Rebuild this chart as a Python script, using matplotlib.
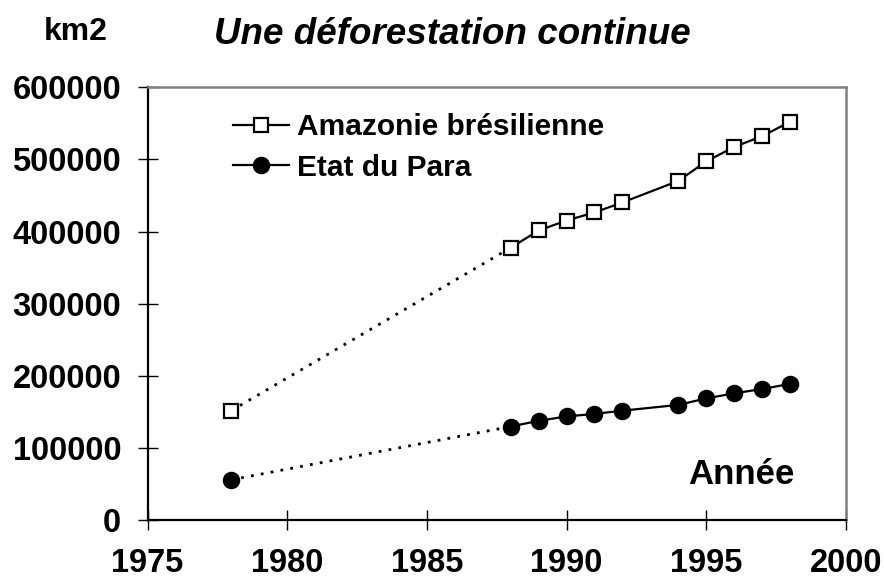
import matplotlib.pyplot as plt

plt.rcParams["font.family"] = ["Liberation Sans", "DejaVu Sans"]
plt.rcParams["font.weight"] = "bold"

years = [1978, 1988, 1989, 1990, 1991, 1992, 1994, 1995, 1996, 1997, 1998]
amazonie = [152200, 377500, 401400, 415200, 426400, 440200, 470000, 497000, 517000, 532000, 551800]
para = [56400, 130000, 138000, 144000, 147500, 152000, 160000, 169000, 176000, 182000, 189000]

x_ticks = [1975, 1980, 1985, 1990, 1995, 2000]
y_ticks = [0, 100000, 200000, 300000, 400000, 500000, 600000]


def draw_series(ax, values, marker, face, label):
    ms = 10 if marker == "s" else 11
    # dotted link over the data gap, solid line for the yearly series
    ax.plot(years[:2], values[:2], color="black", lw=2, ls=(0, (1, 2.6)),
            dash_capstyle="butt", zorder=2)
    ax.plot(years[1:], values[1:], color="black", lw=1.6, zorder=2)
    ax.plot(years, values, ls="none", marker=marker, ms=ms,
            mfc=face, mec="black", mew=1.6, zorder=3)
    ax.plot([], [], color="black", lw=1.6, marker=marker, ms=ms,
            mfc=face, mec="black", mew=1.6, label=label)


def main():
    fig = plt.figure(figsize=(8.84, 5.82), dpi=100)
    ax = fig.add_axes([0.1669, 0.1057, 0.7900, 0.7448])

    draw_series(ax, amazonie, "s", "white", "Amazonie brésilienne")
    draw_series(ax, para, "o", "black", "Etat du Para")

    ax.set_xlim(1975, 2000)
    ax.set_ylim(0, 600000)
    ax.set_xticks(x_ticks)
    ax.set_yticks(y_ticks)
    ax.set_xticklabels([str(v) for v in x_ticks], fontsize=23.5, fontweight="bold")
    ax.set_yticklabels([str(v) for v in y_ticks], fontsize=23.5, fontweight="bold")
    ax.tick_params(direction="inout", length=14, width=1, colors="black", pad=12)
    ax.tick_params(axis="x", pad=13)

    for side in ("left", "bottom"):
        ax.spines[side].set_color("black")
        ax.spines[side].set_linewidth(1.6)
    for side in ("top", "right"):
        ax.spines[side].set_color("#808080")
        ax.spines[side].set_linewidth(1.8)

    ax.legend(loc="upper left", bbox_to_anchor=(0.122, 0.94), frameon=False,
              handlelength=1.9, handletextpad=0.25,
              labelspacing=0.42, borderpad=0, borderaxespad=0,
              prop={"weight": "bold", "size": 21.5})

    ax.text(0.927, 0.107, "Année", transform=ax.transAxes, ha="right",
            va="center", fontsize=25, fontweight="bold")

    fig.text(76 / 884, 1 - 32 / 582, "km2", ha="center", va="center",
             fontsize=23, fontweight="bold")
    fig.text(452 / 884, 1 - 34 / 582, "Une déforestation continue",
             ha="center", va="center", fontsize=26.5, fontweight="bold",
             style="italic")

    fig.savefig("out.png", dpi=100)


if __name__ == "__main__":
    main()
